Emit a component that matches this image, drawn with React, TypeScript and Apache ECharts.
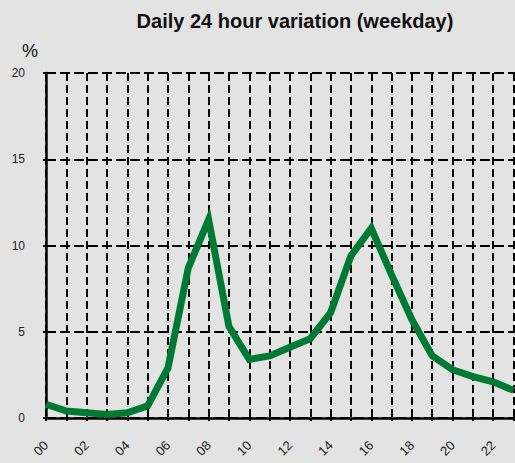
import React, { useEffect, useRef } from "react";
import * as echarts from "echarts";

const hours = [0, 1, 2, 3, 4, 5, 6, 7, 8, 9, 10, 11, 12, 13, 14, 15, 16, 17, 18, 19, 20, 21, 22, 23];
const values = [0.8, 0.4, 0.3, 0.2, 0.3, 0.7, 2.9, 8.7, 11.5, 5.3, 3.4, 3.6, 4.1, 4.6, 6.1, 9.4, 11.0, 8.3, 5.7, 3.6, 2.8, 2.4, 2.1, 1.6];
const yTicks = [0, 5, 10, 15, 20];

export default function App() {
  const ref = useRef<HTMLDivElement>(null);
  useEffect(() => {
    const chart = echarts.init(ref.current!, null, { renderer: "svg" });
    chart.setOption({
      animation: false,
      backgroundColor: "#e3e3e3",
      title: {
        text: "Daily 24 hour variation (weekday)",
        left: 290,
        top: 6,
        textAlign: "center",
        textStyle: { fontFamily: "Liberation Sans", fontSize: 20, fontWeight: "bold", color: "#111" },
      },
      graphic: [
        {
          type: "text",
          left: 22,
          top: 42,
          style: { text: "%", font: "18px 'Liberation Sans'", fill: "#111" },
        },
      ],
      grid: { left: 46, top: 73, bottom: 45, right: 0, containLabel: false },
      xAxis: {
        type: "value",
        min: 0,
        max: 24,
        interval: 1,
        axisLine: { show: true, onZero: false, lineStyle: { color: "#000", width: 2.5 } },
        axisTick: { show: true, length: 3, lineStyle: { color: "#000", width: 2 } },
        axisLabel: {
          rotate: 45,
          margin: 25,
          fontFamily: "Liberation Sans",
          fontSize: 13,
          color: "#222",
          formatter: (v: number) => (v % 2 === 0 && v < 24 ? String(v).padStart(2, "0") : ""),
        },
        splitLine: { show: true, lineStyle: { color: "#000", width: 2, type: [8, 4] } },
      },
      yAxis: {
        type: "value",
        min: yTicks[0],
        max: yTicks[yTicks.length - 1],
        interval: 5,
        axisLine: { show: true, lineStyle: { color: "#000", width: 2.5 } },
        axisTick: { show: true, length: 3, lineStyle: { color: "#000", width: 2 } },
        axisLabel: { margin: 21, fontFamily: "Liberation Sans", fontSize: 12, color: "#222" },
        splitLine: { show: true, lineStyle: { color: "#000", width: 2, type: [10, 4] } },
      },
      series: [
        {
          type: "line",
          data: hours.map((h, i) => [h, values[i]]),
          symbol: "none",
          lineStyle: { color: "#007a33", width: 7, join: "miter" },
          clip: false,
        },
      ],
    });
    return () => chart.dispose();
  }, []);
  return (
    <div style={{ position: "absolute", left: 0, top: 0, width: 515, height: 463, overflow: "hidden" }}>
      <div ref={ref} style={{ width: 536, height: 463 }} />
    </div>
  );
}
